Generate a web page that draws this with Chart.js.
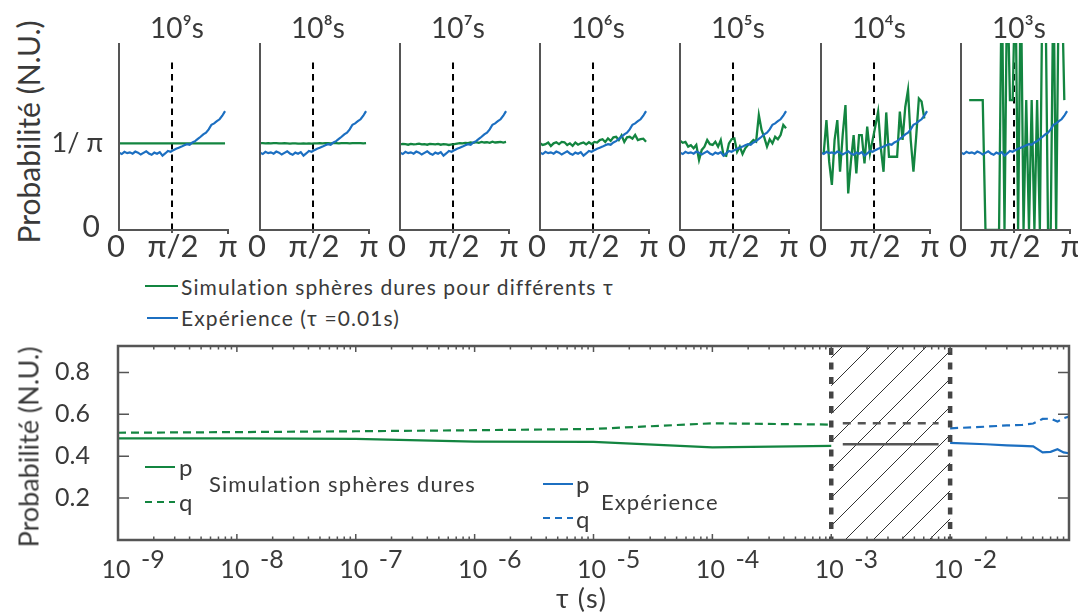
<!DOCTYPE html>
<html>
<head>
<meta charset="utf-8">
<script src="https://cdn.jsdelivr.net/npm/chart.js@4.4.0/dist/chart.umd.min.js"></script>
<style>
    body { margin: 0; background: #fff; font-family: Lato, sans-serif; color: #3a3a3a; }
    #page { position: relative; width: 1078px; height: 613px; overflow: hidden; }
    canvas { position: absolute; }
    .txt { position: absolute; white-space: nowrap; line-height: 1; letter-spacing: 1.1px; }
    .ylab { position: absolute; white-space: nowrap; line-height: 1; transform: translate(-50%, -50%) rotate(-90deg); }
    .smp { position: absolute; height: 2px; }
</style>
</head>
<body>
<div id="page">
    <div class="ylab" style="left:28px;top:132px;font-size:30px">Probabilité (N.U.)</div>
    <div class="ylab" style="left:28px;top:447px;font-size:27px">Probabilité (N.U.)</div>

    <div class="smp" style="left:145px;top:285px;width:33px;background:#138540"></div>
    <div class="txt" style="left:181px;top:276px;font-size:21px">Simulation sphères dures pour différents τ</div>
    <div class="smp" style="left:147px;top:317px;width:31px;background:#1c6fc1"></div>
    <div class="txt" style="left:181px;top:307px;font-size:21px">Expérience (τ =0.01s)</div>

    <div class="smp" style="left:145px;top:466px;width:30px;background:#138540"></div>
    <div class="txt" style="left:179px;top:455px;font-size:24px">p</div>
    <div class="smp" style="left:145px;top:501px;width:30px;background:repeating-linear-gradient(90deg,#138540 0 7px,transparent 7px 12px)"></div>
    <div class="txt" style="left:179px;top:490px;font-size:24px">q</div>
    <div class="txt" style="left:209px;top:473px;font-size:22px">Simulation sphères dures</div>

    <div class="smp" style="left:543px;top:483px;width:30px;background:#1c6fc1"></div>
    <div class="txt" style="left:576px;top:472px;font-size:24px">p</div>
    <div class="smp" style="left:543px;top:517px;width:30px;background:repeating-linear-gradient(90deg,#1c6fc1 0 7px,transparent 7px 12px)"></div>
    <div class="txt" style="left:576px;top:507px;font-size:24px">q</div>
    <div class="txt" style="left:601px;top:491px;font-size:22px">Expérience</div>

    <div class="txt" style="left:556px;top:584px;font-size:27px">τ (s)</div>
</div>

<script>
    // angle en radians (0 .. pi)
    const angles = [
        0.000, 0.081, 0.161, 0.242, 0.322, 0.403, 0.483, 0.564, 0.644, 0.725,
        0.806, 0.886, 0.967, 1.047, 1.128, 1.208, 1.289, 1.369, 1.450, 1.531,
        1.611, 1.692, 1.772, 1.853, 1.933, 2.014, 2.094, 2.175, 2.255, 2.336,
        2.417, 2.497, 2.578, 2.658, 2.739, 2.819, 2.900, 2.980, 3.061, 3.142
    ];

    // experience, tau = 0.01s
    const experience = [
        0.283, 0.278, 0.286, 0.281, 0.284, 0.279, 0.287, 0.283, 0.276, 0.282,
        0.288, 0.280, 0.275, 0.283, 0.279, 0.285, 0.272, 0.280, 0.289, 0.286,
        0.292, 0.297, 0.301, 0.305, 0.310, 0.314, 0.312, 0.320, 0.325, 0.333,
        0.341, 0.350, 0.356, 0.368, 0.385, 0.390, 0.398, 0.405, 0.418, 0.435
    ];

    // simulation spheres dures
    const sim9 = [
        0.317, 0.317, 0.317, 0.317, 0.317, 0.317, 0.317, 0.317, 0.317, 0.317,
        0.317, 0.317, 0.317, 0.317, 0.317, 0.317, 0.317, 0.317, 0.317, 0.317,
        0.317, 0.317, 0.317, 0.317, 0.317, 0.317, 0.317, 0.317, 0.317, 0.317,
        0.317, 0.317, 0.317, 0.317, 0.317, 0.317, 0.317, 0.317, 0.317, 0.317
    ];
    const sim8 = [
        0.318, 0.318, 0.317, 0.318, 0.317, 0.318, 0.318, 0.317, 0.317, 0.318,
        0.317, 0.316, 0.317, 0.317, 0.316, 0.316, 0.317, 0.316, 0.317, 0.316,
        0.317, 0.317, 0.318, 0.317, 0.318, 0.318, 0.317, 0.318, 0.318, 0.317,
        0.318, 0.318, 0.318, 0.317, 0.318, 0.318, 0.318, 0.318, 0.317, 0.318
    ];
    const sim7 = [
        0.313, 0.315, 0.314, 0.312, 0.315, 0.313, 0.314, 0.316, 0.313, 0.314,
        0.312, 0.315, 0.314, 0.313, 0.315, 0.312, 0.314, 0.313, 0.311, 0.313,
        0.314, 0.316, 0.318, 0.317, 0.319, 0.318, 0.320, 0.319, 0.321, 0.319,
        0.322, 0.320, 0.321, 0.319, 0.323, 0.320, 0.321, 0.322, 0.320, 0.322
    ];
    const sim6 = [
        0.317, 0.311, 0.314, 0.320, 0.307, 0.317, 0.321, 0.314, 0.322, 0.321,
        0.311, 0.317, 0.308, 0.320, 0.312, 0.317, 0.320, 0.313, 0.321, 0.314,
        0.322, 0.320, 0.329, 0.332, 0.322, 0.335, 0.326, 0.339, 0.341, 0.329,
        0.346, 0.322, 0.339, 0.341, 0.334, 0.348, 0.329, 0.332, 0.334, 0.323
    ];
    const sim5 = [
        0.327, 0.319, 0.322, 0.305, 0.310, 0.299, 0.311, 0.256, 0.293, 0.305,
        0.329, 0.314, 0.311, 0.323, 0.305, 0.329, 0.274, 0.271, 0.317, 0.332,
        0.335, 0.286, 0.305, 0.278, 0.299, 0.311, 0.319, 0.329, 0.323, 0.420,
        0.366, 0.339, 0.305, 0.332, 0.317, 0.341, 0.332, 0.347, 0.384, 0.372
    ];
    const sim4 = [
        null, 0.281, 0.402, 0.250, 0.165, 0.330, 0.402, 0.213, 0.350, 0.457,
        0.134, 0.250, 0.347, 0.207, 0.347, 0.347, 0.244, 0.378, 0.280, 0.330,
        0.380, 0.433, 0.300, 0.213, 0.430, 0.268, 0.268, 0.268, 0.268, 0.433,
        0.330, 0.450, 0.512, 0.330, 0.213, 0.340, 0.481, 0.470, 0.408, null
    ];
    const sim3 = [
        null, null, null, 0.475, 0.475, 0.475, 0.475, 0.475, 0.475, 0,
        0, 0, 0, 0, 0, 0.95, 0, 0.95, 0.475, 0.475,
        0.95, 0, 0.95, 0, 0.475, 0, 0.475, 0, 0.475, 0,
        0.95, 0.95, 0, 0, 0.95, 0, 0.95, 0.95, 0.475, null
    ];

    const simulations = [sim9, sim8, sim7, sim6, sim5, sim4, sim3];
    const titres = ['10⁹s', '10⁸s', '10⁷s', '10⁶s', '10⁵s', '10⁴s', '10³s'];
    const angleTicks = [0, Math.PI / 2, Math.PI];
    const angleLabels = ['0', 'π/2', 'π'];
    const dashTop = 0.618;

    // graphique du bas : probabilites p et q en fonction de tau
    const tauSim = [1e-9, 1e-8, 1e-7, 1e-6, 1e-5, 1e-4, 1e-3];
    const pSim = [0.485, 0.485, 0.483, 0.470, 0.468, 0.442, 0.449];
    const qSim = [0.512, 0.515, 0.519, 0.524, 0.530, 0.557, 0.551];
    const tauTrou = [1.25e-3, 8e-3];
    const pTrou = [0.457, 0.457];
    const qTrou = [0.557, 0.557];
    const tauExp = [0.01, 0.02, 0.03, 0.04, 0.05, 0.06, 0.07, 0.08, 0.09, 0.1];
    const pExp = [0.464, 0.457, 0.452, 0.449, 0.447, 0.418, 0.421, 0.433, 0.418, 0.414];
    const qExp = [0.533, 0.541, 0.547, 0.549, 0.556, 0.578, 0.579, 0.565, 0.581, 0.589];
    const decades = [1e-9, 1e-8, 1e-7, 1e-6, 1e-5, 1e-4, 1e-3, 1e-2];
    const decadeLabels = ['-9', '-8', '-7', '-6', '-5', '-4', '-3', '-2'];
    const probTicks = [0.2, 0.4, 0.6, 0.8];

    const VERT = '#138540';
    const BLEU = '#1c6fc1';
    const AXE = '#555555';
    const TEXTE = '#3a3a3a';

    const page = document.getElementById('page');
    const panelLeft = [119, 260, 400, 540, 680, 821, 961];

    const axesHaut = {
        id: 'axesHaut',
        afterDraw(chart, args, opts) {
            const ctx = chart.ctx;
            const a = chart.chartArea;
            const x = chart.scales.x;
            const y = chart.scales.y;
            ctx.save();
            ctx.strokeStyle = AXE;
            ctx.lineWidth = 2;
            ctx.beginPath();
            ctx.moveTo(a.left, a.top);
            ctx.lineTo(a.left, a.bottom);
            ctx.lineTo(a.right + 2, a.bottom);
            ctx.stroke();
            ctx.beginPath();
            ctx.moveTo(x.getPixelForValue(Math.PI / 2), a.bottom);
            ctx.lineTo(x.getPixelForValue(Math.PI / 2), a.bottom + 3);
            ctx.moveTo(a.right + 1, a.bottom);
            ctx.lineTo(a.right + 1, a.bottom + 4);
            ctx.stroke();

            ctx.fillStyle = TEXTE;
            ctx.textAlign = 'center';
            ctx.textBaseline = 'alphabetic';
            ctx.font = '31px Lato';
            let decal = [-3, 1, 3];
            angleTicks.forEach((v, i) => {
                ctx.fillText(angleLabels[i], x.getPixelForValue(v) + decal[i], a.bottom + 27);
            });
            ctx.font = '28px Lato';
            ctx.fillText(opts.titre, (a.left + a.right) / 2 + 4, 38);
            if (opts.axeY) {
                ctx.textAlign = 'right';
                ctx.textBaseline = 'middle';
                ctx.font = '27px Lato';
                ctx.fillText('1/ π', a.left - 16, y.getPixelForValue(1 / Math.PI));
                ctx.font = '30px Lato';
                ctx.fillText('0', a.left - 19, y.getPixelForValue(0) - 3);
            }
            ctx.restore();
        }
    };

    simulations.forEach((sim, k) => {
        let cv = document.createElement('canvas');
        cv.width = 208;
        cv.height = 268;
        cv.style.left = (panelLeft[k] - 70) + 'px';
        cv.style.top = '0px';
        page.appendChild(cv);

        new Chart(cv, {
            type: 'line',
            data: {
                labels: angles,
                datasets: [{
                    data: experience,
                    borderColor: BLEU,
                    borderWidth: 2.2,
                    pointRadius: 0
                }, {
                    data: sim,
                    borderColor: VERT,
                    borderWidth: 2.3,
                    pointRadius: 0
                }, {
                    data: [{ x: Math.PI / 2, y: 0 }, { x: Math.PI / 2, y: dashTop }],
                    borderColor: '#000',
                    borderWidth: 2,
                    borderDash: [6.5, 5],
                    pointRadius: 0
                }]
            },
            options: {
                responsive: false,
                animation: false,
                devicePixelRatio: 1,
                layout: { padding: { left: 70, right: 30, top: 43, bottom: 38 } },
                scales: {
                    x: { type: 'linear', min: 0, max: 3.2, display: false },
                    y: { min: 0, max: 0.684, display: false }
                },
                elements: { line: { tension: 0 } },
                plugins: {
                    legend: { display: false },
                    tooltip: { enabled: false },
                    axesHaut: { titre: titres[k], axeY: k == 0 }
                }
            },
            plugins: [axesHaut]
        });
    });

    const cadreBas = {
        id: 'cadreBas',
        beforeDatasetsDraw(chart) {
            const ctx = chart.ctx;
            const a = chart.chartArea;
            const x = chart.scales.x;
            const x0 = x.getPixelForValue(1e-3);
            const x1 = x.getPixelForValue(1e-2);
            ctx.save();
            ctx.beginPath();
            ctx.rect(x0, a.top, x1 - x0, a.bottom - a.top);
            ctx.clip();
            ctx.strokeStyle = '#333';
            ctx.lineWidth = 1;
            ctx.beginPath();
            for (let c = 826; c < x1 + a.bottom + 30; c += 28) {
                ctx.moveTo(c - a.bottom, a.bottom);
                ctx.lineTo(c - a.top, a.top);
            }
            ctx.stroke();
            ctx.restore();
        },
        afterDatasetsDraw(chart) {
            const ctx = chart.ctx;
            const a = chart.chartArea;
            const x = chart.scales.x;
            const y = chart.scales.y;
            ctx.save();

            // bords pointilles de la zone hachuree
            ctx.strokeStyle = '#444';
            ctx.lineWidth = 4.5;
            ctx.setLineDash([7, 7.5]);
            [1e-3, 1e-2].forEach(t => {
                let px = x.getPixelForValue(t);
                ctx.beginPath();
                ctx.moveTo(px, a.top + 2);
                ctx.lineTo(px, a.bottom);
                ctx.stroke();
            });
            ctx.setLineDash([]);

            ctx.strokeStyle = AXE;
            ctx.lineWidth = 2.5;
            ctx.strokeRect(a.left, a.top, a.right - a.left, a.bottom - a.top);

            ctx.lineWidth = 1.5;
            ctx.beginPath();
            decades.forEach(d => {
                for (let m = 1; m <= 9; m++) {
                    let px = x.getPixelForValue(d * m);
                    let len = m == 1 ? 6 : 3.5;
                    ctx.moveTo(px, a.bottom);
                    ctx.lineTo(px, a.bottom - len);
                    ctx.moveTo(px, a.top);
                    ctx.lineTo(px, a.top + len);
                }
            });
            probTicks.forEach(v => {
                let py = y.getPixelForValue(v);
                ctx.moveTo(a.left, py);
                ctx.lineTo(a.left + 11, py);
                ctx.moveTo(a.right, py);
                ctx.lineTo(a.right - 11, py);
            });
            ctx.stroke();

            ctx.fillStyle = TEXTE;
            ctx.font = '25px Lato';
            ctx.textAlign = 'right';
            ctx.textBaseline = 'middle';
            probTicks.forEach(v => {
                ctx.fillText(v.toFixed(1), 90, y.getPixelForValue(v));
            });
            ctx.textBaseline = 'alphabetic';
            decades.forEach((d, i) => {
                let px = x.getPixelForValue(d);
                ctx.textAlign = 'center';
                ctx.fillText('10', px - 2, a.bottom + 38);
                ctx.textAlign = 'left';
                ctx.fillText(decadeLabels[i], px + 23, a.bottom + 28);
            });
            ctx.restore();
        }
    };

    let cvBas = document.createElement('canvas');
    cvBas.width = 1078;
    cvBas.height = 278;
    cvBas.style.left = '0px';
    cvBas.style.top = '335px';
    page.insertBefore(cvBas, page.firstChild);

    const points = (xs, ys) => xs.map((t, i) => ({ x: t, y: ys[i] }));

    new Chart(cvBas, {
        type: 'line',
        data: {
            datasets: [{
                data: points(tauExp, pExp),
                borderColor: BLEU,
                borderWidth: 2.2,
                pointRadius: 0
            }, {
                data: points(tauExp, qExp),
                borderColor: BLEU,
                borderWidth: 2.2,
                borderDash: [8, 5],
                pointRadius: 0
            }, {
                data: points(tauTrou, pTrou),
                borderColor: AXE,
                borderWidth: 2.5,
                pointRadius: 0
            }, {
                data: points(tauTrou, qTrou),
                borderColor: AXE,
                borderWidth: 2.5,
                borderDash: [8, 7],
                pointRadius: 0
            }, {
                data: points(tauSim, pSim),
                borderColor: VERT,
                borderWidth: 2.2,
                pointRadius: 0
            }, {
                data: points(tauSim, qSim),
                borderColor: VERT,
                borderWidth: 2.2,
                borderDash: [8, 5],
                pointRadius: 0
            }]
        },
        options: {
            responsive: false,
            animation: false,
            devicePixelRatio: 1,
            layout: { padding: { left: 118, right: 9, top: 11, bottom: 73 } },
            scales: {
                x: { type: 'logarithmic', min: 1e-9, max: 0.1, display: false },
                y: { min: 0, max: 0.926, display: false }
            },
            elements: { line: { tension: 0 } },
            plugins: {
                legend: { display: false },
                tooltip: { enabled: false }
            }
        },
        plugins: [cadreBas]
    });
</script>
</body>
</html>
